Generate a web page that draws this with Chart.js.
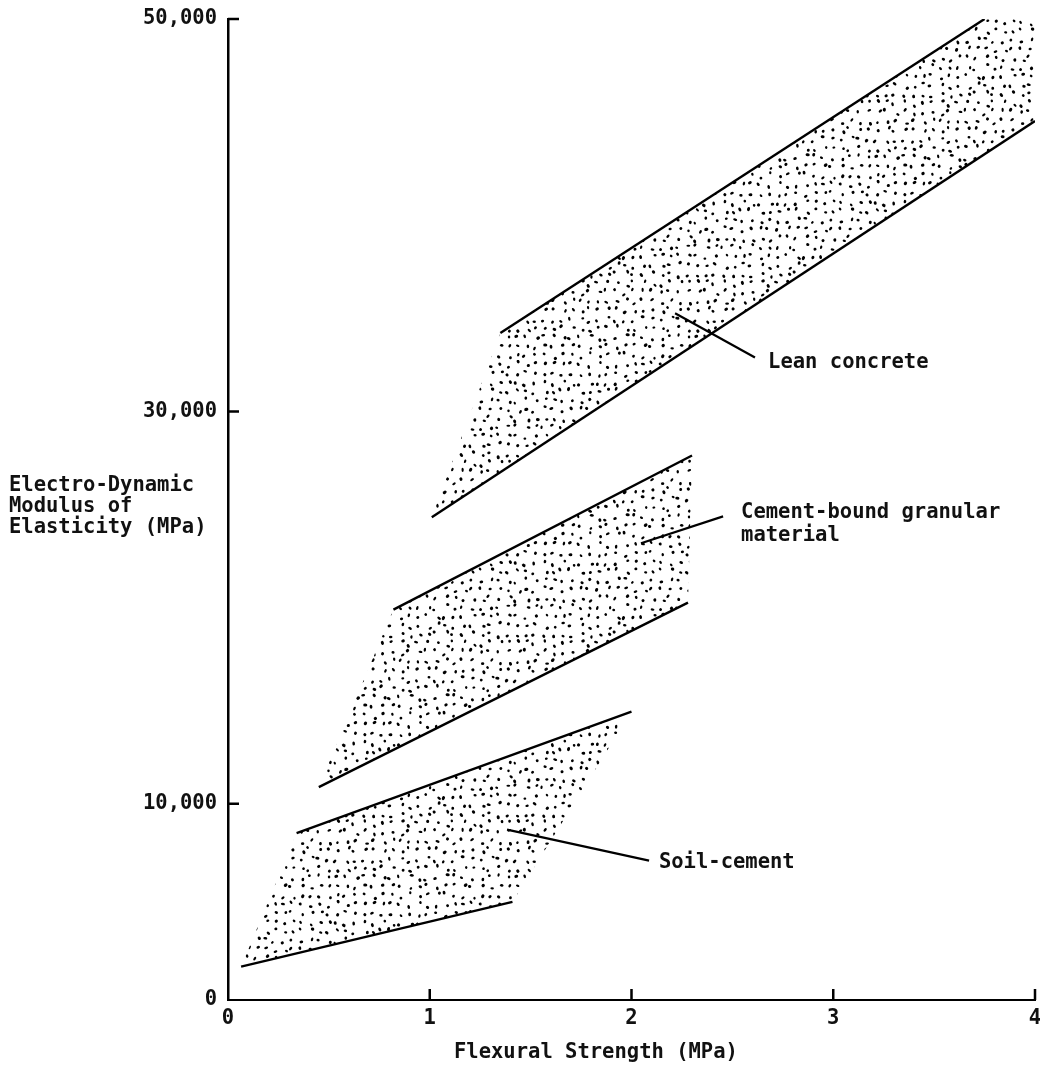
<!DOCTYPE html>
<html>
<head>
<meta charset="utf-8">
<script src="https://cdn.jsdelivr.net/npm/chart.js@4.4.1/dist/chart.umd.min.js"></script>
<style>
  html, body { margin: 0; padding: 0; background: #fff; }
  #wrap { width: 1040px; height: 1068px; }
</style>
</head>
<body>
<div id="wrap"><canvas id="c"></canvas></div>
<script>
// values: x = flexural strength (MPa), y = E-dyn modulus (MPa)
const xTicks = [0, 1, 2, 3, 4];
const yTicks = [0, 10000, 30000, 50000];

// band edges (solid lines), left point first
const leanUpper = [{ x: 1.35, y: 34000 }, { x: 3.75, y: 50000 }];
const leanLower = [{ x: 1.01, y: 24600 }, { x: 4.0, y: 44800 }];
const leanCorner = [{ x: 4.0, y: 50000 }];

const cbgmUpper = [{ x: 0.82, y: 19900 }, { x: 2.30, y: 27750 }];
const cbgmLower = [{ x: 0.45, y: 10850 }, { x: 2.28, y: 20250 }];

const soilUpper = [{ x: 0.34, y: 8500 }, { x: 2.00, y: 14700 }];
const soilLower = [{ x: 0.065, y: 1700 }, { x: 1.41, y: 5000 }];

// leader lines from each band to its label
const leanLeader = [{ x: 2.216, y: 35000 }, { x: 2.612, y: 32750 }];
const cbgmLeader = [{ x: 2.047, y: 23280 }, { x: 2.454, y: 24650 }];
const soilLeader = [{ x: 1.383, y: 8680 }, { x: 2.087, y: 7100 }];

const noteText = ['Lean concrete', 'Cement-bound granular', 'material', 'Soil-cement'];
const noteX = [2.677, 2.543, 2.543, 2.136];
const noteY = [32500, 24860, 23690, 7000];

const FONT = '"DejaVu Sans Mono", "Liberation Mono", monospace';

// ── stipple pattern (seeded so every render is the same)
function makeStipple() {
  const size = 180, cell = 9;
  const cv = document.createElement('canvas');
  cv.width = size; cv.height = size;
  const g = cv.getContext('2d');
  let s = 12345;
  const rnd = () => { s = (s * 1103515245 + 12345) % 2147483648; return s / 2147483648; };
  g.fillStyle = '#000';
  for (let gy = 0; gy < size; gy += cell) {
    for (let gx = 0; gx < size; gx += cell) {
      const px = gx + 1.5 + rnd() * (cell - 3);
      const py = gy + 1.5 + rnd() * (cell - 3);
      g.beginPath();
      g.ellipse(px, py, 1.4 + rnd() * 0.7, 1.1 + rnd() * 0.5, rnd() * Math.PI, 0, Math.PI * 2);
      g.fill();
    }
  }
  return document.createElement('canvas').getContext('2d').createPattern(cv, 'repeat');
}
const stipple = makeStipple();

function shape(upper, lower, extra = []) {
  return [...upper, ...extra, ...lower.slice().reverse(), upper[0]];
}

function area(data) {
  return { data, showLine: true, fill: 'shape', backgroundColor: stipple,
           borderWidth: 0, borderColor: 'rgba(0,0,0,0)', pointRadius: 0 };
}
function edge(data, w = 2.4) {
  return { data, showLine: true, fill: false, borderColor: '#000',
           borderWidth: w, pointRadius: 0 };
}

// ── inward ticks + texts
const decor = {
  id: 'decor',
  afterDraw(chart) {
    const { ctx, scales: { x, y } } = chart;
    ctx.save();
    ctx.strokeStyle = '#000';
    ctx.lineWidth = 2.5;
    ctx.beginPath();
    yTicks.forEach(v => {
      if (v === 0) return;
      const py = y.getPixelForValue(v);
      ctx.moveTo(x.left, py); ctx.lineTo(x.left + 11, py);
    });
    xTicks.forEach(v => {
      if (v === 0) return;
      const px = x.getPixelForValue(v);
      ctx.moveTo(px, y.bottom); ctx.lineTo(px, y.bottom - 11);
    });
    ctx.stroke();

    ctx.fillStyle = '#111';
    ctx.font = 'bold 20.5px ' + FONT;
    ctx.textBaseline = 'middle';
    ctx.textAlign = 'left';
    ['Electro-Dynamic', 'Modulus of', 'Elasticity (MPa)'].forEach((t, i) => {
      ctx.fillText(t, 9, 486 + i * 21);
    });
    ctx.fillText('Flexural Strength (MPa)', 454, 1053);

    noteText.forEach((t, i) => {
      ctx.fillText(t, x.getPixelForValue(noteX[i]), y.getPixelForValue(noteY[i]));
    });
    ctx.restore();
  }
};

new Chart(document.getElementById('c'), {
  type: 'scatter',
  data: {
    datasets: [
      area(shape(leanUpper, leanLower, leanCorner)),
      area(shape(cbgmUpper, cbgmLower)),
      area(shape(soilUpper, soilLower)),
      edge(leanUpper), edge(leanLower),
      edge(cbgmUpper), edge(cbgmLower),
      edge(soilUpper), edge(soilLower),
      edge(leanLeader, 2.2), edge(cbgmLeader, 2.2), edge(soilLeader, 2.2),
    ]
  },
  options: {
    responsive: true,
    maintainAspectRatio: false,
    animation: false,
    layout: { padding: { top: 19, right: 5, left: 0, bottom: 0 } },
    plugins: { legend: { display: false }, tooltip: { enabled: false } },
    scales: {
      x: {
        type: 'linear', min: 0, max: 4,
        afterBuildTicks: s => { s.ticks = xTicks.map(v => ({ value: v })); },
        afterFit: s => { s.height = 68; s.paddingLeft = 0; s.paddingRight = 0; },
        grid: { display: false, drawTicks: false },
        border: { display: true, color: '#000', width: 2 },
        ticks: { color: '#111', padding: 6, font: { family: FONT, size: 20.5, weight: 'bold' } },
      },
      y: {
        type: 'linear', min: 0, max: 50000,
        afterBuildTicks: s => { s.ticks = yTicks.map(v => ({ value: v })); },
        afterFit: s => { s.width = 228; s.paddingTop = 0; s.paddingBottom = 0; },
        grid: { display: false, drawTicks: false },
        border: { display: true, color: '#000', width: 2.5 },
        ticks: {
          color: '#111', padding: 11, font: { family: FONT, size: 20.5, weight: 'bold' },
          callback: v => v.toLocaleString('en-US'),
        },
      }
    }
  },
  plugins: [decor]
});
</script>
</body>
</html>
